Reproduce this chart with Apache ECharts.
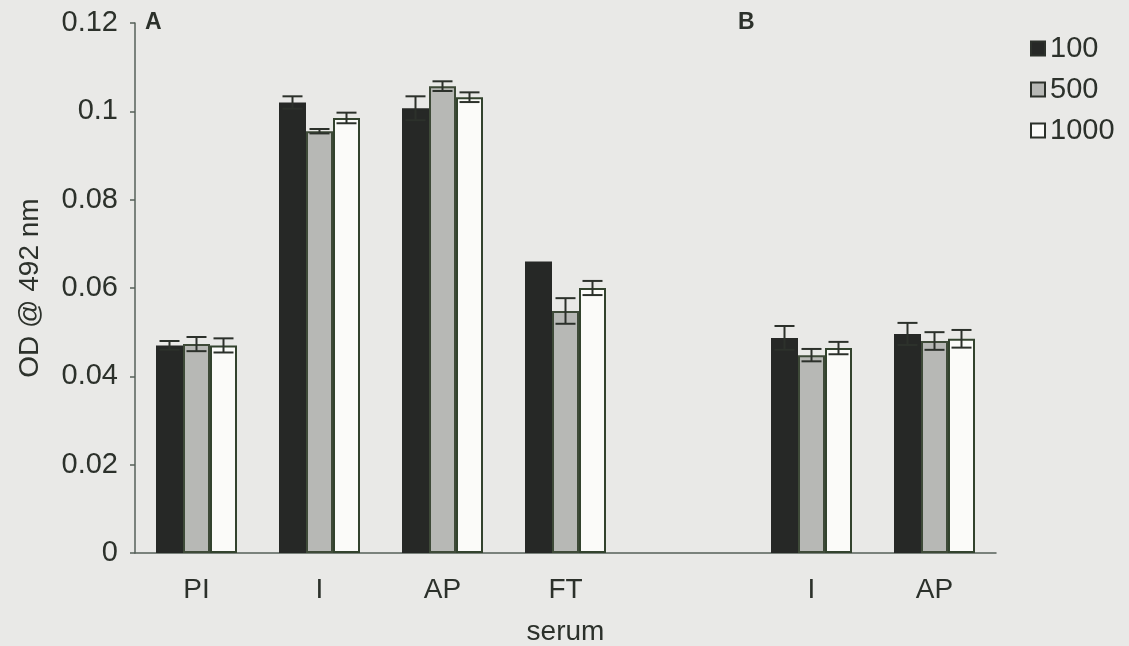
<!DOCTYPE html>
<html>
<head>
<meta charset="utf-8">
<script src="https://cdn.jsdelivr.net/npm/echarts@6/dist/echarts.min.js"></script>
<style>
  html, body { margin: 0; padding: 0; background: #e9e9e7; }
  #chart { width: 1129px; height: 646px; }
</style>
</head>
<body>
<div id="chart"></div>
<script>
// serum groups (empty slot separates panel A from panel B)
var categories = ['PI', 'I', 'AP', 'FT', '', 'I', 'AP'];
var seriesNames = ['100', '500', '1000'];

// OD @ 492 nm
var od100 = [0.0470, 0.1020, 0.1007, 0.0660, null, 0.0487, 0.0496];
var od500 = [0.0473, 0.0955, 0.1057, 0.0548, null, 0.0448, 0.0480];
var od1000 = [0.0470, 0.0985, 0.1032, 0.0600, null, 0.0464, 0.0485];

// +/- error
var err100 = [0.0010, 0.0014, 0.0027, 0, null, 0.0027, 0.0025];
var err500 = [0.0016, 0.0005, 0.0011, 0.0029, null, 0.0014, 0.0020];
var err1000 = [0.0016, 0.0012, 0.0011, 0.0016, null, 0.0014, 0.0020];

var yTicks = [0, 0.02, 0.04, 0.06, 0.08, 0.1, 0.12];

var values = [od100, od500, od1000];
var errors = [err100, err500, err1000];
var fills = ['#262826', '#b7b8b5', '#fbfbf9'];
var borders = ['#262826', '#3e4a38', '#33432e'];
var ink = '#2c312b';
var FONT = 'Liberation Sans, Arial, sans-serif';
var BAR_W = 27;

function errData(vals, errs) {
    var out = [];
    vals.forEach(function (v, i) {
        if (v == null || !errs[i]) return;
        out.push([i, v - errs[i], v + errs[i]]);
    });
    return out;
}

function errRenderer(offset) {
    return function (params, api) {
        var lo = api.coord([api.value(0), api.value(1)]);
        var hi = api.coord([api.value(0), api.value(2)]);
        var x = lo[0] + offset;
        var hw = 10;
        var st = { stroke: ink, lineWidth: 2 };
        return {
            type: 'group',
            children: [
                { type: 'line', shape: { x1: x, y1: lo[1], x2: x, y2: hi[1] }, style: st },
                { type: 'line', shape: { x1: x - hw, y1: hi[1], x2: x + hw, y2: hi[1] }, style: st },
                { type: 'line', shape: { x1: x - hw, y1: lo[1], x2: x + hw, y2: lo[1] }, style: st }
            ]
        };
    };
}

var series = [];
seriesNames.forEach(function (name, k) {
    series.push({
        name: name,
        type: 'bar',
        barWidth: BAR_W,
        barGap: '0%',
        data: values[k],
        itemStyle: { color: fills[k], borderColor: borders[k], borderWidth: 2 },
        emphasis: { disabled: true },
        z: 2
    });
});
seriesNames.forEach(function (name, k) {
    series.push({
        type: 'custom',
        renderItem: errRenderer((k - 1) * BAR_W),
        data: errData(values[k], errors[k]),
        encode: { x: 0, y: [1, 2] },
        z: 5,
        silent: true
    });
});

var chart = echarts.init(document.getElementById('chart'));
var option = {
    backgroundColor: '#e9e9e7',
    animation: false,
    textStyle: { fontFamily: FONT },
    grid: { left: 135, right: 133, top: 23, bottom: 93, outerBoundsMode: 'none' },
    legend: {
        data: seriesNames,
        orient: 'vertical',
        left: 1025,
        top: 29,
        icon: 'rect',
        itemWidth: 14,
        itemHeight: 14,
        itemGap: 12,
        textStyle: { fontSize: 29, color: ink },
        itemStyle: { borderColor: ink, borderWidth: 2 }
    },
    xAxis: {
        type: 'category',
        data: categories,
        name: 'serum',
        nameLocation: 'middle',
        nameGap: 65,
        nameTextStyle: { fontSize: 28, color: ink },
        axisLine: { lineStyle: { color: '#56605a', width: 1.5 } },
        axisTick: { length: 7, lineStyle: { color: '#56605a', width: 1.5 } },
        axisLabel: { fontSize: 28, color: ink, margin: 23 }
    },
    yAxis: {
        type: 'value',
        min: yTicks[0],
        max: yTicks[yTicks.length - 1],
        interval: 0.02,
        name: 'OD @ 492 nm',
        nameLocation: 'middle',
        nameRotate: 90,
        nameGap: 91,
        nameTextStyle: { fontSize: 28, color: ink },
        splitLine: { show: false },
        axisLine: { show: true, lineStyle: { color: '#56605a', width: 1.5 } },
        axisTick: { show: true, length: 5, lineStyle: { color: '#56605a', width: 1.5 } },
        axisLabel: {
            fontSize: 29,
            color: ink,
            margin: 17,
            formatter: function (v) { return String(+v.toFixed(2)); }
        }
    },
    graphic: [
        { type: 'text', left: 145, top: 11, style: { text: 'A', font: 'bold 23px ' + FONT, fill: ink } },
        { type: 'text', left: 738, top: 11, style: { text: 'B', font: 'bold 23px ' + FONT, fill: ink } }
    ],
    series: series
};
chart.setOption(option);
window.addEventListener('resize', function () {
    chart.resize();
});
</script>
</body>
</html>
